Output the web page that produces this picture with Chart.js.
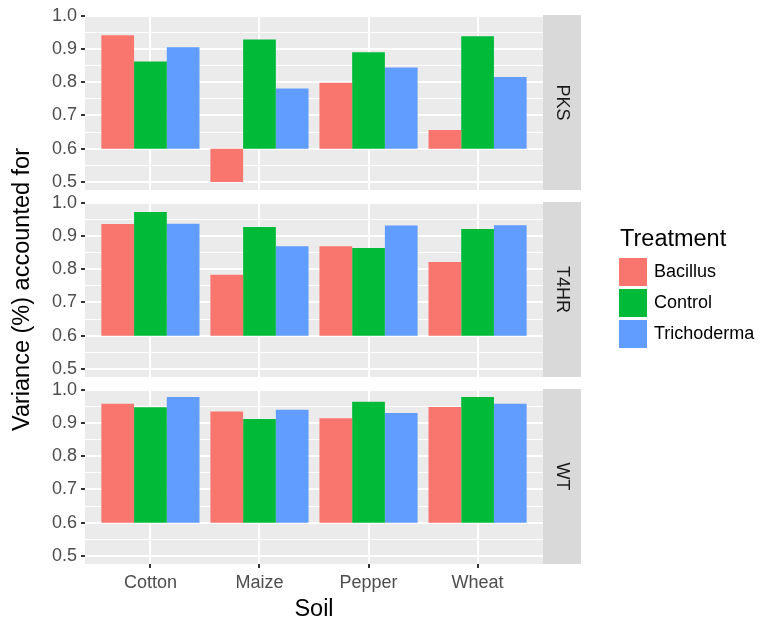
<!DOCTYPE html>
<html>
<head>
<meta charset="utf-8">
<title>Variance accounted for, by soil and treatment</title>
<script src="https://cdn.jsdelivr.net/npm/chart.js@4.4.1/dist/chart.umd.min.js"></script>
<style>
  body { margin: 0; background: #fff; }
  #plot { position: relative; width: 762px; height: 624px; font-family: "Liberation Sans", Arial, sans-serif; }
  #plot canvas { position: absolute; left: 0; top: 0; }
  #legend { position: absolute; left: 619px; top: 224px; color: #000; }
  #legend .title { font-size: 23.5px; line-height: 28px; margin-left: 1px; margin-bottom: 4px; }
  #legend .item { display: flex; align-items: center; height: 31px; font-size: 18px; }
  #legend .key { width: 28px; height: 28px; margin-right: 7px; }
</style>
</head>
<body>
<div id="plot">
  <canvas id="panel0" width="762" height="624"></canvas>
  <canvas id="panel1" width="762" height="624"></canvas>
  <canvas id="panel2" width="762" height="624"></canvas>
  <div id="legend"></div>
</div>

<script>
// categories and series
const soils = ['Cotton', 'Maize', 'Pepper', 'Wheat'];
const treatments = ['Bacillus', 'Control', 'Trichoderma'];
const colors = ['#F8766D', '#00BA38', '#619CFF'];
const facets = ['PKS', 'T4HR', 'WT'];

// bars run from this value to the reading (Maize/Bacillus in PKS goes down)
const barBase = 0.6;

// readings, one value per soil
const pksBacillus = [0.941, 0.500, 0.798, 0.656];
const pksControl = [0.862, 0.928, 0.890, 0.938];
const pksTrichoderma = [0.905, 0.781, 0.844, 0.816];

const t4hrBacillus = [0.936, 0.783, 0.869, 0.822];
const t4hrControl = [0.972, 0.927, 0.864, 0.921];
const t4hrTrichoderma = [0.937, 0.869, 0.931, 0.932];

const wtBacillus = [0.958, 0.934, 0.914, 0.948];
const wtControl = [0.947, 0.912, 0.964, 0.978];
const wtTrichoderma = [0.978, 0.940, 0.930, 0.958];

// y axis
const yMajor = [0.5, 0.6, 0.7, 0.8, 0.9, 1.0];
const yMinor = [0.55, 0.65, 0.75, 0.85, 0.95];
const yMin = 0.476;
const yMax = 1.002;

const facetSeries = [
  [pksBacillus, pksControl, pksTrichoderma],
  [t4hrBacillus, t4hrControl, t4hrTrichoderma],
  [wtBacillus, wtControl, wtTrichoderma]
];

// layout (pixels)
const panelLeft = 85;
const panelRight = 543;
const panelTops = [15, 202, 389];
const panelHeight = 175;
const stripWidth = 38;
const fontFamily = '"Liberation Sans", Arial, sans-serif';

Chart.defaults.font.family = fontFamily;

const isMajor = v => yMajor.some(m => Math.abs(m - v) < 1e-6);

// grey panel background + facet strip on the right
function facetPlugin(name) {
  return {
    id: 'facet',
    beforeDraw(chart) {
      const { ctx, chartArea: a } = chart;
      ctx.save();
      ctx.fillStyle = '#EBEBEB';
      ctx.fillRect(a.left, a.top, a.width, a.height);
      ctx.fillStyle = '#D9D9D9';
      ctx.fillRect(a.right, a.top, stripWidth, a.height);
      ctx.translate(a.right + stripWidth / 2, a.top + a.height / 2);
      ctx.rotate(Math.PI / 2);
      ctx.fillStyle = '#1A1A1A';
      ctx.font = '18px ' + fontFamily;
      ctx.textAlign = 'center';
      ctx.textBaseline = 'middle';
      ctx.fillText(name, 0, 0);
      ctx.restore();
    }
  };
}

function makePanel(i) {
  const last = i === facets.length - 1;
  const axisHeight = last ? 60 : 0;
  const top = panelTops[i];

  return new Chart(document.getElementById('panel' + i), {
    type: 'bar',
    data: {
      datasets: treatments.map((t, j) => ({
        label: t,
        data: soils.map((s, k) => ({ x: k + 1, y: [barBase, facetSeries[i][j][k]] })),
        backgroundColor: colors[j],
        borderWidth: 0,
        categoryPercentage: 0.9,
        barPercentage: 1.0
      }))
    },
    options: {
      responsive: false,
      animation: false,
      events: [],
      layout: {
        padding: { left: 0, top: top, right: 762 - panelRight, bottom: 624 - top - panelHeight - axisHeight }
      },
      plugins: { legend: { display: false }, tooltip: { enabled: false } },
      scales: {
        x: {
          type: 'linear',
          min: 0.4,
          max: soils.length + 0.6,
          bounds: 'data',
          offset: false,
          afterBuildTicks: axis => { axis.ticks = soils.map((s, k) => ({ value: k + 1 })); },
          afterFit: axis => { axis.height = axisHeight; },
          border: { display: false },
          grid: { offset: false, color: '#fff', lineWidth: 2, drawTicks: last, tickLength: 4, tickColor: '#333', tickWidth: 2 },
          ticks: {
            display: last,
            autoSkip: false,
            maxRotation: 0,
            padding: 4,
            color: '#4D4D4D',
            font: { size: 18 },
            callback: v => soils[v - 1]
          },
          title: { display: last, text: 'Soil', color: '#000', font: { size: 23.5 }, padding: 0 }
        },
        y: {
          min: yMin,
          max: yMax,
          bounds: 'data',
          afterBuildTicks: axis => {
            axis.ticks = yMajor.concat(yMinor).sort((a, b) => a - b).map(v => ({ value: v }));
          },
          afterFit: axis => { axis.width = panelLeft; },
          border: { display: false },
          grid: {
            color: '#fff',
            lineWidth: ctx => isMajor(ctx.tick.value) ? 2 : 1,
            tickLength: 4,
            tickWidth: 2,
            tickColor: ctx => isMajor(ctx.tick.value) ? '#333' : 'rgba(0,0,0,0)'
          },
          ticks: {
            autoSkip: false,
            padding: 4,
            color: '#4D4D4D',
            font: { size: 18 },
            callback: v => isMajor(v) ? v.toFixed(1) : ''
          },
          title: {
            display: i === 1,
            text: 'Variance (%) accounted for',
            color: '#000',
            font: { size: 23.5 },
            padding: { top: 8 }
          }
        }
      }
    },
    plugins: [facetPlugin(facets[i])]
  });
}

facets.forEach((f, i) => makePanel(i));

// legend
const legend = document.getElementById('legend');
legend.innerHTML = '<div class="title">Treatment</div>' +
  treatments.map((t, j) =>
    `<div class="item"><span class="key" style="background:${colors[j]}"></span>${t}</div>`
  ).join('');
</script>
</body>
</html>
